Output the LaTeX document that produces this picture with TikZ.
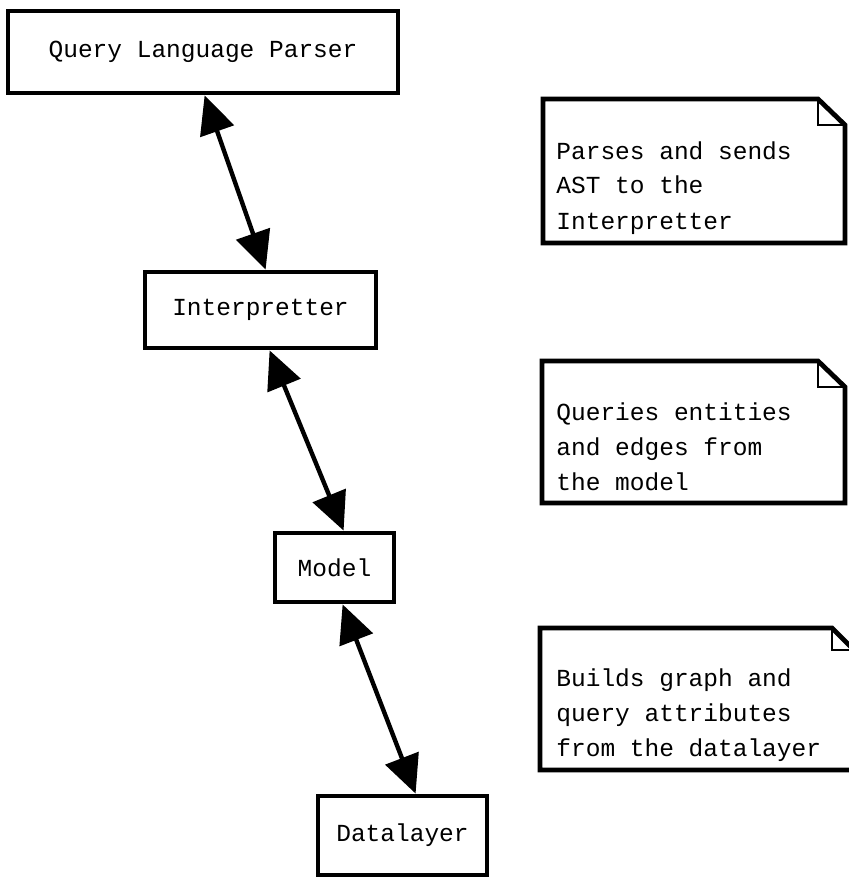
\documentclass[tikz,border=0pt]{standalone}
\usepackage{fontspec}
\setmonofont{Liberation Mono}
\usetikzlibrary{arrows.meta}
\begin{document}
\begin{tikzpicture}[x=0.5pt,y=-0.5pt,
  txt/.style={font=\ttfamily\fontsize{12.25}{17.5}\selectfont},
  box/.style={draw, line width=2.4pt, inner sep=0pt, txt},
  link/.style={{Triangle[length=19pt,width=17.5pt]}-{Triangle[length=19pt,width=17.5pt]}, line width=2.2pt},
  note/.style={draw, line width=2.4pt, line join=miter},
  fold/.style={draw, line width=1pt},
  notetext/.style={txt, inner sep=0pt, align=left, anchor=base west}]
\useasboundingbox (0,0) rectangle (849,877);
\node[box, minimum width=195pt, minimum height=41pt] (qlp) at (203,52) {Query Language Parser};
\node[box, minimum width=115.5pt, minimum height=38pt] (int) at (260.5,310) {Interpretter};
\node[box, minimum width=59.5pt, minimum height=34.5pt] (mod) at (334.5,567.5) {Model};
\node[box, minimum width=84.5pt, minimum height=39.5pt] (dl) at (402.5,835.5) {Datalayer};
\draw[link] ([xshift=99.5pt]qlp.south west) -- ([xshift=61.5pt]int.north west);
\draw[link] ([xshift=63.5pt]int.south west) -- ([xshift=35.5pt]mod.north west);
\draw[link] ([xshift=35pt]mod.south west) -- ([xshift=50pt]dl.north west);
% notes
\draw[note] (543,99) -- (818,99) -- (845,125) -- (845,243) -- (543,243) -- cycle;
\draw[fold] (818,99) -- (818,125) -- (845,125);
\node[notetext] (n1) at (556,229) {Parses and sends\\AST to the\\Interpretter};
\draw[note] (542,361) -- (818,361) -- (845,387) -- (845,503) -- (542,503) -- cycle;
\draw[fold] (818,361) -- (818,387) -- (845,387);
\node[notetext] (n2) at (556,490) {Queries entities\\and edges from\\the model};
\begin{scope}
\clip (0,0) rectangle (849,877);
\draw[note] (540,628) -- (832,628) -- (856,652) -- (856,770) -- (540,770) -- cycle;
\draw[fold] (832,628) -- (832,650) -- (856,650);
\end{scope}
\node[notetext] (n3) at (556,756) {Builds graph and\\query attributes\\from the datalayer};
\end{tikzpicture}
\end{document}
